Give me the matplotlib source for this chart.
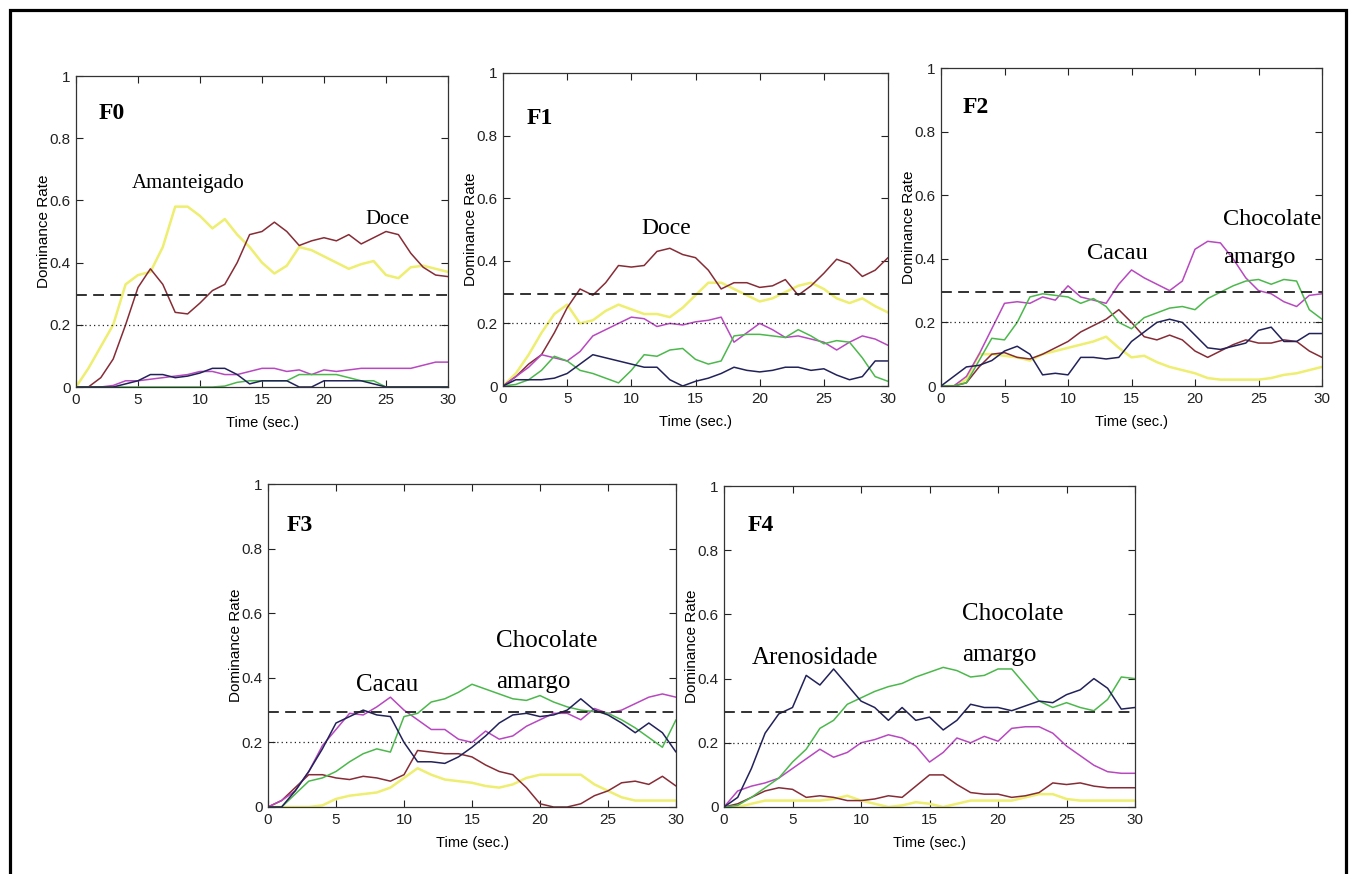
import matplotlib
matplotlib.use('Agg')
import matplotlib.pyplot as plt
from matplotlib.patches import Rectangle

# fonte tipo MATLAB (estreita) para os eixos
plt.rcParams['font.family'] = ['Liberation Sans Narrow', 'Liberation Sans', 'DejaVu Sans']

# tempo (s)
t = list(range(31))

# ---- F0 ----
f0_yellow = [0, 0.06, 0.13, 0.2, 0.33, 0.36, 0.37, 0.45, 0.58, 0.58, 0.55, 0.51, 0.54, 0.49, 0.45, 0.40,
             0.365, 0.39, 0.45, 0.44, 0.42, 0.40, 0.38, 0.395, 0.405, 0.36, 0.35, 0.385, 0.39, 0.38, 0.37]
f0_red = [0, 0, 0.03, 0.09, 0.2, 0.32, 0.38, 0.33, 0.24, 0.235, 0.27, 0.31, 0.33, 0.40, 0.49, 0.50,
          0.53, 0.50, 0.455, 0.47, 0.48, 0.47, 0.49, 0.46, 0.48, 0.50, 0.49, 0.43, 0.385, 0.36, 0.355]
f0_magenta = [0, 0, 0, 0.005, 0.02, 0.02, 0.025, 0.03, 0.035, 0.04, 0.05, 0.05, 0.04, 0.04, 0.05, 0.06,
              0.06, 0.05, 0.055, 0.04, 0.055, 0.05, 0.055, 0.06, 0.06, 0.06, 0.06, 0.06, 0.07, 0.08, 0.08]
f0_green = [0, 0, 0, 0, 0, 0, 0, 0, 0, 0, 0, 0, 0.003, 0.015, 0.02, 0.02,
            0.02, 0.02, 0.04, 0.04, 0.04, 0.04, 0.03, 0.02, 0.02, 0, 0, 0, 0, 0, 0]
f0_navy = [0, 0, 0, 0, 0.01, 0.02, 0.04, 0.04, 0.03, 0.035, 0.045, 0.06, 0.06, 0.04, 0.01, 0.02,
           0.02, 0.02, 0, 0, 0.02, 0.02, 0.02, 0.02, 0.01, 0, 0, 0, 0, 0, 0]

# ---- F1 ----
f1_yellow = [0, 0.04, 0.1, 0.17, 0.23, 0.26, 0.2, 0.21, 0.24, 0.26, 0.245, 0.23, 0.23, 0.22, 0.25, 0.29,
             0.33, 0.33, 0.31, 0.29, 0.27, 0.28, 0.30, 0.32, 0.33, 0.31, 0.28, 0.265, 0.28, 0.255, 0.235]
f1_red = [0, 0.03, 0.07, 0.1, 0.17, 0.25, 0.31, 0.29, 0.33, 0.385, 0.38, 0.385, 0.43, 0.44, 0.42, 0.41,
          0.37, 0.31, 0.33, 0.33, 0.315, 0.32, 0.34, 0.29, 0.32, 0.36, 0.405, 0.39, 0.35, 0.37, 0.41]
f1_magenta = [0, 0.03, 0.06, 0.1, 0.09, 0.08, 0.11, 0.16, 0.18, 0.2, 0.22, 0.215, 0.19, 0.2, 0.195, 0.205,
              0.21, 0.22, 0.14, 0.17, 0.2, 0.18, 0.155, 0.16, 0.15, 0.14, 0.115, 0.14, 0.16, 0.15, 0.13]
f1_green = [0, 0.005, 0.02, 0.05, 0.095, 0.08, 0.05, 0.04, 0.025, 0.01, 0.05, 0.1, 0.095, 0.115, 0.12, 0.085,
            0.07, 0.08, 0.16, 0.165, 0.165, 0.16, 0.155, 0.18, 0.16, 0.135, 0.145, 0.14, 0.09, 0.03, 0.015]
f1_navy = [0, 0.02, 0.02, 0.02, 0.025, 0.04, 0.07, 0.1, 0.09, 0.08, 0.07, 0.06, 0.06, 0.02, 0, 0.015,
           0.025, 0.04, 0.06, 0.05, 0.045, 0.05, 0.06, 0.06, 0.05, 0.055, 0.035, 0.02, 0.03, 0.08, 0.08]

# ---- F2 ----
f2_yellow = [0, 0, 0.02, 0.1, 0.1, 0.095, 0.09, 0.08, 0.1, 0.11, 0.12, 0.13, 0.14, 0.155, 0.12, 0.09,
             0.095, 0.075, 0.06, 0.05, 0.04, 0.025, 0.02, 0.02, 0.02, 0.02, 0.025, 0.035, 0.04, 0.05, 0.06]
f2_red = [0, 0, 0.01, 0.06, 0.1, 0.105, 0.09, 0.085, 0.1, 0.12, 0.14, 0.17, 0.19, 0.21, 0.24, 0.2,
          0.155, 0.145, 0.16, 0.145, 0.11, 0.09, 0.11, 0.13, 0.145, 0.135, 0.135, 0.145, 0.14, 0.11, 0.09]
f2_magenta = [0, 0, 0.03, 0.1, 0.18, 0.26, 0.265, 0.26, 0.28, 0.27, 0.315, 0.28, 0.27, 0.26, 0.32, 0.365,
              0.34, 0.32, 0.30, 0.33, 0.43, 0.455, 0.45, 0.40, 0.34, 0.30, 0.29, 0.265, 0.25, 0.285, 0.29]
f2_green = [0, 0, 0.01, 0.08, 0.15, 0.145, 0.2, 0.28, 0.29, 0.285, 0.28, 0.26, 0.275, 0.25, 0.2, 0.18,
            0.215, 0.23, 0.245, 0.25, 0.24, 0.275, 0.295, 0.315, 0.33, 0.335, 0.32, 0.335, 0.33, 0.24, 0.21]
f2_navy = [0, 0.03, 0.06, 0.065, 0.08, 0.11, 0.125, 0.1, 0.035, 0.04, 0.035, 0.09, 0.09, 0.085, 0.09, 0.14,
           0.17, 0.2, 0.21, 0.2, 0.16, 0.12, 0.115, 0.125, 0.135, 0.175, 0.185, 0.14, 0.14, 0.165, 0.165]

# ---- F3 ----
f3_yellow = [0, 0, 0, 0, 0.005, 0.025, 0.035, 0.04, 0.045, 0.06, 0.09, 0.12, 0.1, 0.085, 0.08, 0.075,
             0.065, 0.06, 0.07, 0.09, 0.1, 0.1, 0.1, 0.1, 0.07, 0.05, 0.03, 0.02, 0.02, 0.02, 0.02]
f3_red = [0, 0.02, 0.06, 0.1, 0.1, 0.09, 0.085, 0.095, 0.09, 0.08, 0.1, 0.175, 0.17, 0.165, 0.165, 0.155,
          0.13, 0.11, 0.1, 0.06, 0.01, 0, 0, 0.01, 0.035, 0.05, 0.075, 0.08, 0.07, 0.095, 0.065]
f3_magenta = [0, 0.02, 0.05, 0.11, 0.19, 0.24, 0.29, 0.285, 0.31, 0.34, 0.30, 0.27, 0.24, 0.24, 0.21, 0.2,
              0.235, 0.21, 0.22, 0.25, 0.27, 0.29, 0.29, 0.27, 0.305, 0.29, 0.30, 0.32, 0.34, 0.35, 0.34]
f3_green = [0, 0, 0.04, 0.08, 0.09, 0.11, 0.14, 0.165, 0.18, 0.17, 0.28, 0.29, 0.325, 0.335, 0.355, 0.38,
            0.365, 0.35, 0.335, 0.33, 0.345, 0.325, 0.31, 0.30, 0.295, 0.29, 0.27, 0.245, 0.215, 0.185, 0.27]
f3_navy = [0, 0, 0.05, 0.11, 0.18, 0.26, 0.28, 0.30, 0.285, 0.28, 0.2, 0.14, 0.14, 0.135, 0.155, 0.185,
           0.22, 0.26, 0.285, 0.29, 0.28, 0.285, 0.30, 0.335, 0.30, 0.285, 0.26, 0.23, 0.26, 0.23, 0.17]

# ---- F4 ----
f4_yellow = [0, 0, 0.01, 0.02, 0.02, 0.02, 0.02, 0.02, 0.025, 0.035, 0.02, 0.01, 0, 0.005, 0.015, 0.01,
             0, 0.01, 0.02, 0.02, 0.02, 0.02, 0.03, 0.04, 0.04, 0.025, 0.02, 0.02, 0.02, 0.02, 0.02]
f4_red = [0, 0.01, 0.03, 0.05, 0.06, 0.055, 0.03, 0.035, 0.03, 0.02, 0.02, 0.025, 0.035, 0.03, 0.065, 0.1,
          0.1, 0.07, 0.045, 0.04, 0.04, 0.03, 0.035, 0.045, 0.075, 0.07, 0.075, 0.065, 0.06, 0.06, 0.06]
f4_magenta = [0, 0.05, 0.065, 0.075, 0.09, 0.12, 0.15, 0.18, 0.155, 0.17, 0.2, 0.21, 0.225, 0.215, 0.19, 0.14,
              0.17, 0.215, 0.2, 0.22, 0.205, 0.245, 0.25, 0.25, 0.23, 0.19, 0.16, 0.13, 0.11, 0.105, 0.105]
f4_green = [0, 0.005, 0.03, 0.06, 0.09, 0.14, 0.18, 0.245, 0.27, 0.32, 0.34, 0.36, 0.375, 0.385, 0.405, 0.42,
            0.435, 0.425, 0.405, 0.41, 0.43, 0.43, 0.38, 0.33, 0.31, 0.325, 0.31, 0.30, 0.335, 0.405, 0.40]
f4_navy = [0, 0.03, 0.12, 0.23, 0.29, 0.31, 0.41, 0.38, 0.43, 0.38, 0.33, 0.31, 0.27, 0.31, 0.27, 0.28,
           0.24, 0.27, 0.32, 0.31, 0.31, 0.30, 0.315, 0.33, 0.325, 0.35, 0.365, 0.40, 0.37, 0.305, 0.31]

panel_names = ['F0', 'F1', 'F2', 'F3', 'F4']
series = [
    [f0_yellow, f0_red, f0_magenta, f0_green, f0_navy],
    [f1_yellow, f1_red, f1_magenta, f1_green, f1_navy],
    [f2_yellow, f2_red, f2_magenta, f2_green, f2_navy],
    [f3_yellow, f3_red, f3_magenta, f3_green, f3_navy],
    [f4_yellow, f4_red, f4_magenta, f4_green, f4_navy],
]

# niveis de referencia (chance e significancia)
chance_level = 0.2
signif_level = 0.295

x_ticks = [0, 5, 10, 15, 20, 25, 30]
y_ticks = [0, 0.2, 0.4, 0.6, 0.8, 1]
y_tick_labels = ['0', '0.2', '0.4', '0.6', '0.8', '1']

# rotulos dos atributos dominantes: (texto, x, y)
notes = [
    [('Amanteigado', 4.5, 0.64), ('Doce', 23.3, 0.524)],
    [('Doce', 10.8, 0.486)],
    [('Cacau', 11.5, 0.399), ('Chocolate', 22.2, 0.506), ('amargo', 22.2, 0.387)],
    [('Cacau', 6.5, 0.36), ('Chocolate', 16.8, 0.496), ('amargo', 16.8, 0.367)],
    [('Arenosidade', 2.0, 0.445), ('Chocolate', 17.35, 0.583), ('amargo', 17.35, 0.455)],
]
note_sizes = [15, 17, 17.5, 18, 18]
name_pos = [(1.8, 0.861), (1.87, 0.836), (1.73, 0.859), (1.4, 0.855), (1.75, 0.86)]

colors = ['#eeee70', '#862c36', '#b848c0', '#4cb84c', '#22225a']
widths = [1.8, 1.1, 1.1, 1.1, 1.1]

W, H = 1356, 874
# caixas dos paineis em pixels: esquerda, direita, topo, base
boxes = [(76, 448, 76, 387), (503, 888, 73, 386), (941, 1322, 68, 386),
         (268, 676, 484, 807), (724, 1135, 486, 807)]

fig = plt.figure(figsize=(W / 100, H / 100), dpi=100)

# moldura externa
fig.add_artist(Rectangle((10 / W, -0.1), (1346 - 10) / W, 1.1 - 10 / H,
                         transform=fig.transFigure, fill=False, ec='black', lw=2.3))


def draw_panel(k):
    l, r, tp, b = boxes[k]
    ax = fig.add_axes([l / W, 1 - b / H, (r - l) / W, (b - tp) / H])
    for s, c, lw in zip(series[k], colors, widths):
        ax.plot(t, s, color=c, lw=lw, solid_capstyle='round', solid_joinstyle='round')
    ax.axhline(signif_level, color='#222222', lw=1.3, ls=(0, (6, 3.5)))
    ax.axhline(chance_level, color='#222222', lw=0.9, ls=(0, (1, 2.5)))
    ax.set_xlim(0, 30)
    ax.set_ylim(0, 1)
    ax.set_xticks(x_ticks)
    ax.set_xticklabels([str(v) for v in x_ticks])
    ax.set_yticks(y_ticks)
    ax.set_yticklabels(y_tick_labels)
    ax.tick_params(direction='in', top=True, right=True, length=5, width=0.8,
                   labelsize=11, pad=4, colors='#222222')
    for sp in ax.spines.values():
        sp.set_color('#333333')
        sp.set_linewidth(0.9)
    ax.set_ylabel('Dominance Rate', family=['Liberation Sans', 'DejaVu Sans'], fontsize=11)
    ax.yaxis.set_label_coords(-32 / (r - l), 0.5)
    ax.set_xlabel('Time (sec.)', fontsize=10.5)
    ax.xaxis.set_label_coords(0.5, -36 / (b - tp))
    ax.xaxis.label.set_va('center')
    ax.yaxis.label.set_va('center')
    nx, ny = name_pos[k]
    ax.text(nx, ny, panel_names[k], family=['Liberation Serif', 'DejaVu Serif'],
            fontweight='bold', fontsize=17, ha='left', va='baseline')
    for txt, x, y in notes[k]:
        ax.text(x, y, txt, family=['Liberation Serif', 'DejaVu Serif'],
                fontsize=note_sizes[k], ha='left', va='baseline')
    return ax


for k in range(len(panel_names)):
    draw_panel(k)

fig.savefig('out.png', dpi=100)
